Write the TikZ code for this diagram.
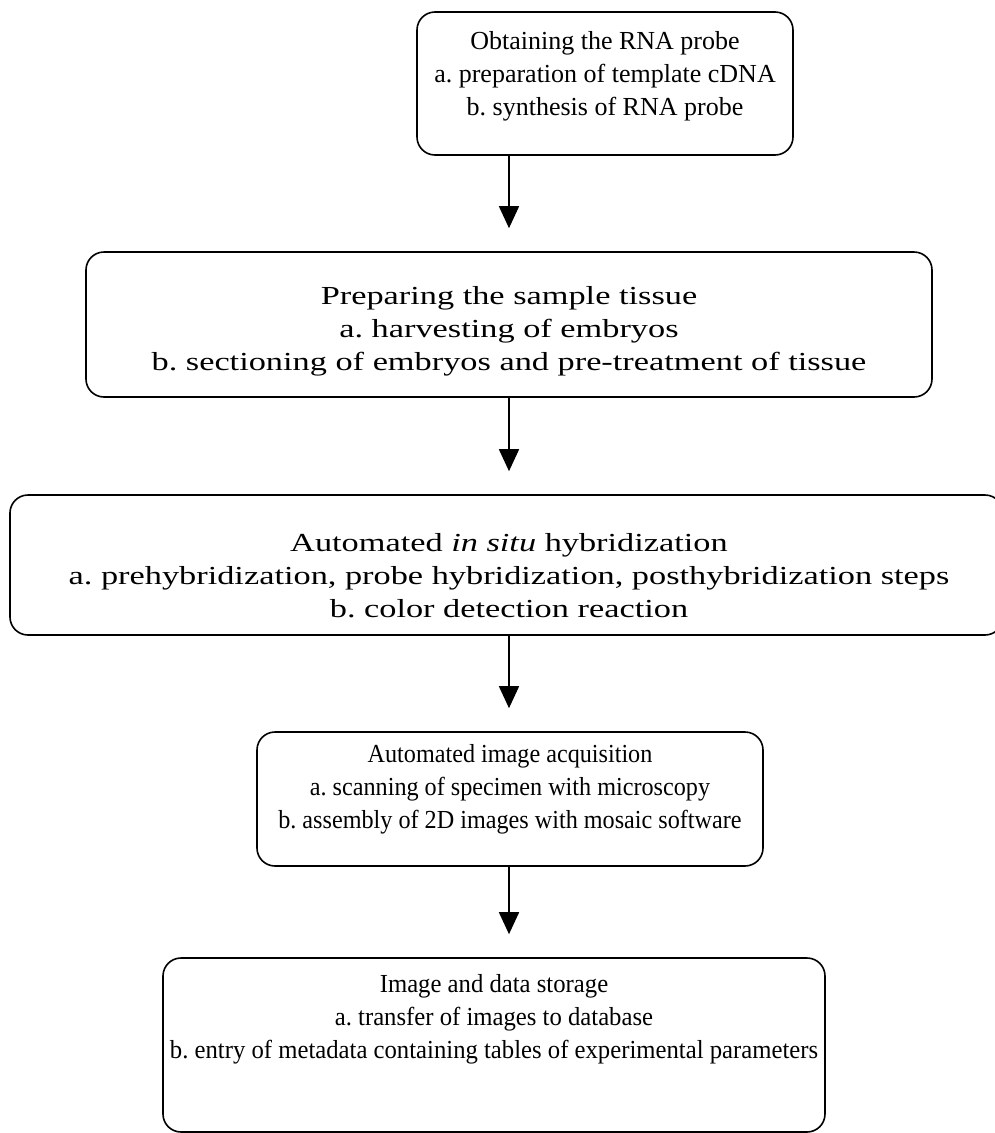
\documentclass[tikz,border=0pt]{standalone}
\usepackage{fontspec}
\setmainfont{Liberation Serif}
\frenchspacing
\usetikzlibrary{arrows.meta,calc,positioning}

\begin{document}
\begin{tikzpicture}[x=1pt,y=-1pt,
    stage/.style={draw,line width=1.6pt,rounded corners=18pt,inner sep=0pt},
    stagetext/.style={align=center,font=\fontsize{26}{33}\selectfont,transform shape},
    flow/.style={-{Triangle[length=22pt,width=20pt]},line width=1.6pt,shorten >=23pt}]
  \useasboundingbox (0,0) rectangle (995,1133);
  \clip (0,0) rectangle (995,1133);
  % the five stages
  \node[stage,minimum width=376pt,minimum height=143pt] (s1) at (605,83.5) {};
  \node[stage,minimum width=846pt,minimum height=145pt] (s2) at (509,324.5) {};
  \node[stage,minimum width=993pt,minimum height=140pt] (s3) at (506.5,565) {};
  \node[stage,minimum width=506pt,minimum height=134pt] (s4) at (510,799) {};
  \node[stage,minimum width=662pt,minimum height=174pt] (s5) at (494,1045) {};
  \node[stagetext] (t1) at (605,76) {Obtaining the RNA probe\\a. preparation of template cDNA\\b. synthesis of RNA probe};
  \node[stagetext,xscale=1.32] (t2) at (509,331) {Preparing the sample tissue\\a. harvesting of embryos\\b. sectioning of embryos and pre-treatment of tissue};
  \node[stagetext,xscale=1.32] (t3) at (509,576) {Automated \textit{in situ} hybridization\\a. prehybridization, probe hybridization, posthybridization steps\\b. color detection reaction};
  \node[stagetext,xscale=0.93] (t4) at (510,789) {Automated image acquisition\\a. scanning of specimen with microscopy\\b. assembly of 2D images with mosaic software};
  \node[stagetext,xscale=0.95] (t5) at (494,1019) {Image and data storage\\a. transfer of images to database\\b. entry of metadata containing tables of experimental parameters};
  % arrows between stages
  \foreach \a/\b in {1/2,2/3,3/4,4/5}
    \draw[flow] (s\a.south -| s2.center) -- (s\b.north -| s2.center);
\end{tikzpicture}
\end{document}
